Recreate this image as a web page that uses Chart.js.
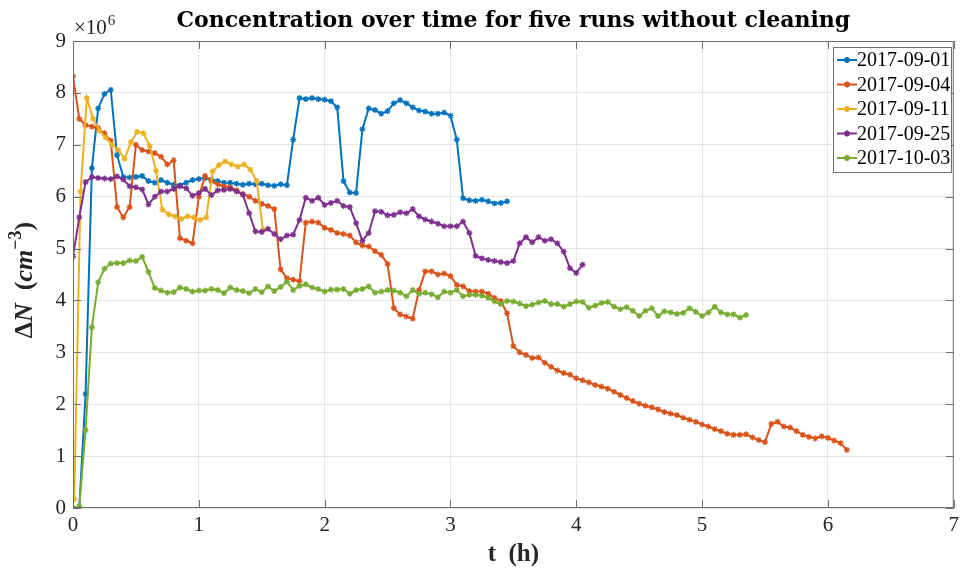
<!DOCTYPE html>
<html><head><meta charset="utf-8">
<script src="https://cdn.jsdelivr.net/npm/chart.js@4"></script>
<style>html,body{margin:0;padding:0;background:#fff;}</style>
</head><body>
<canvas id="c" width="964" height="568"></canvas>
<script>
// ---- data (ΔN in units of 1e6 cm^-3), sampled every 0.05 h ----
const sampleStep = 0.05;
const seriesLabels = ['2017-09-01','2017-09-04','2017-09-11','2017-09-25','2017-10-03'];
const seriesStart = [0.05, 0, 0.01, 0, 0];
const run0901 = [0, 2.2, 6.55, 7.7, 7.98, 8.06, 6.8, 6.38, 6.37, 6.38, 6.4, 6.3, 6.27, 6.32, 6.27, 6.23, 6.22, 6.27, 6.32, 6.34, 6.36, 6.33, 6.3, 6.27, 6.27, 6.25, 6.23, 6.25, 6.24, 6.25, 6.22, 6.21, 6.24, 6.22, 7.1, 7.9, 7.88, 7.9, 7.88, 7.87, 7.84, 7.72, 6.3, 6.08, 6.07, 7.3, 7.7, 7.67, 7.6, 7.65, 7.8, 7.86, 7.8, 7.72, 7.66, 7.64, 7.6, 7.6, 7.62, 7.56, 7.1, 5.97, 5.93, 5.92, 5.94, 5.91, 5.87, 5.88, 5.91];
const run0904 = [8.32, 7.5, 7.38, 7.35, 7.32, 7.22, 7.08, 5.8, 5.6, 5.8, 7.0, 6.9, 6.87, 6.84, 6.77, 6.62, 6.7, 5.2, 5.15, 5.1, 6.0, 6.4, 6.3, 6.24, 6.2, 6.18, 6.12, 6.05, 6.0, 5.92, 5.86, 5.82, 5.76, 4.6, 4.43, 4.4, 4.37, 5.5, 5.52, 5.5, 5.4, 5.36, 5.3, 5.28, 5.25, 5.12, 5.06, 5.04, 4.95, 4.88, 4.7, 3.85, 3.73, 3.69, 3.65, 4.2, 4.56, 4.56, 4.5, 4.52, 4.47, 4.3, 4.27, 4.18, 4.17, 4.17, 4.13, 4.05, 3.99, 3.75, 3.12, 3.0, 2.95, 2.89, 2.9, 2.8, 2.72, 2.65, 2.6, 2.57, 2.5, 2.46, 2.42, 2.37, 2.34, 2.3, 2.24, 2.18, 2.12, 2.06, 2.01, 1.97, 1.94, 1.9, 1.85, 1.82, 1.79, 1.74, 1.7, 1.66, 1.61, 1.57, 1.52, 1.48, 1.43, 1.41, 1.41, 1.42, 1.36, 1.31, 1.27, 1.62, 1.66, 1.57, 1.55, 1.48, 1.41, 1.37, 1.34, 1.38, 1.35, 1.3, 1.25, 1.12];
const run0911 = [0.17, 6.1, 7.9, 7.5, 7.27, 7.14, 7.0, 6.9, 6.73, 7.05, 7.25, 7.22, 6.98, 6.5, 5.75, 5.66, 5.62, 5.57, 5.62, 5.6, 5.55, 5.6, 6.49, 6.61, 6.68, 6.62, 6.58, 6.62, 6.52, 6.3, 5.36];
const run0925 = [4.85, 5.6, 6.28, 6.38, 6.36, 6.35, 6.34, 6.39, 6.33, 6.2, 6.18, 6.14, 5.85, 6.0, 6.1, 6.1, 6.15, 6.2, 6.16, 6.02, 6.07, 6.15, 6.03, 6.12, 6.13, 6.15, 6.1, 6.04, 5.68, 5.33, 5.32, 5.38, 5.28, 5.18, 5.25, 5.27, 5.55, 5.98, 5.92, 5.98, 5.84, 5.88, 5.92, 5.82, 5.8, 5.49, 5.15, 5.3, 5.72, 5.71, 5.64, 5.65, 5.7, 5.68, 5.76, 5.62, 5.56, 5.52, 5.48, 5.43, 5.43, 5.43, 5.52, 5.3, 4.86, 4.81, 4.78, 4.76, 4.74, 4.72, 4.76, 5.1, 5.22, 5.12, 5.22, 5.15, 5.18, 5.1, 4.94, 4.62, 4.53, 4.69];
const run1003 = [0, 0.03, 1.5, 3.48, 4.35, 4.61, 4.71, 4.72, 4.72, 4.77, 4.76, 4.84, 4.55, 4.24, 4.19, 4.15, 4.16, 4.25, 4.22, 4.17, 4.19, 4.19, 4.22, 4.2, 4.14, 4.25, 4.2, 4.18, 4.14, 4.22, 4.16, 4.27, 4.18, 4.26, 4.36, 4.2, 4.28, 4.31, 4.25, 4.22, 4.17, 4.21, 4.21, 4.22, 4.13, 4.2, 4.22, 4.27, 4.15, 4.17, 4.2, 4.19, 4.15, 4.08, 4.2, 4.13, 4.15, 4.12, 4.06, 4.17, 4.15, 4.2, 4.08, 4.11, 4.11, 4.09, 4.05, 3.98, 3.93, 3.99, 3.98, 3.94, 3.89, 3.92, 3.96, 3.99, 3.93, 3.93, 3.88, 3.93, 3.98, 3.97, 3.86, 3.9, 3.95, 3.97, 3.88, 3.83, 3.87, 3.8, 3.7, 3.8, 3.85, 3.7, 3.79, 3.77, 3.74, 3.76, 3.85, 3.78, 3.7, 3.77, 3.88, 3.77, 3.73, 3.73, 3.67, 3.72];
const xTicks = [0,1,2,3,4,5,6,7];
const yTicks = [0,1,2,3,4,5,6,7,8,9];

const seriesValues = [run0901, run0904, run0911, run0925, run1003];
const seriesColors = ['#0072BD','#D95319','#EDB120','#7E2F8E','#77AC30'];

const datasets = seriesValues.map((vals, i) => ({
  label: seriesLabels[i],
  data: vals.map((v, k) => ({x: seriesStart[i] + k * sampleStep, y: v})),
  borderColor: seriesColors[i],
  backgroundColor: seriesColors[i],
  borderWidth: 2,
  pointStyle: 'star',
  pointRadius: 3,
  pointBorderWidth: 1.3,
  pointBorderColor: seriesColors[i],
  tension: 0,
  order: 5 - i
}));

const SERIF = '"Liberation Serif", "DejaVu Serif", serif';
const AXC = '#262626';

const decor = {
  id: 'decor',
  afterDraw(chart) {
    const ctx = chart.ctx, a = chart.chartArea;
    const xs = chart.scales.x, ys = chart.scales.y;
    ctx.save();
    // box
    ctx.strokeStyle = '#6e6e6e';
    ctx.lineWidth = 1;
    ctx.strokeRect(a.left + 0.5, a.top + 0.5, a.right - a.left - 1, a.bottom - a.top - 1);
    // inward ticks
    ctx.beginPath();
    xTicks.forEach(t => {
      const p = Math.round(xs.getPixelForValue(t)) + 0.5;
      ctx.moveTo(p, a.bottom); ctx.lineTo(p, a.bottom - 8);
      ctx.moveTo(p, a.top); ctx.lineTo(p, a.top + 8);
    });
    yTicks.forEach(t => {
      const p = Math.round(ys.getPixelForValue(t)) + 0.5;
      ctx.moveTo(a.left, p); ctx.lineTo(a.left + 8, p);
      ctx.moveTo(a.right, p); ctx.lineTo(a.right - 8, p);
    });
    ctx.stroke();

    // title
    ctx.fillStyle = '#000';
    ctx.textAlign = 'center';
    ctx.textBaseline = 'alphabetic';
    ctx.font = 'bold 22px "DejaVu Serif", serif';
    ctx.fillText('Concentration over time for five runs without cleaning', (a.left + a.right) / 2, 27);

    // x10^6
    ctx.fillStyle = AXC;
    ctx.textAlign = 'left';
    ctx.font = '21px ' + SERIF;
    ctx.fillText('\u00d710', 74, 34);
    const w10 = ctx.measureText('\u00d710').width;
    ctx.font = '15px ' + SERIF;
    ctx.fillText('6', 74 + w10 + 1, 25);

    // x title
    ctx.fillStyle = '#262626';
    ctx.textAlign = 'center';
    ctx.font = 'bold 25px ' + SERIF;
    ctx.fillText('t  (h)', (a.left + a.right) / 2, 561);

    // y title (rotated)
    ctx.save();
    ctx.translate(32, 280);
    ctx.rotate(-Math.PI / 2);
    const segs = [
      ['\u0394', 'bold 26px ' + SERIF, 0],
      ['N', 'italic bold 26px ' + SERIF, 0],
      ['  (', 'bold 26px ' + SERIF, 0],
      ['cm', 'italic bold 26px ' + SERIF, 0],
      ['\u22123', 'bold 18px ' + SERIF, -11],
      [')', 'bold 26px ' + SERIF, 0]
    ];
    let total = 0;
    segs.forEach(s => { ctx.font = s[1]; total += ctx.measureText(s[0]).width; });
    let xx = -total / 2;
    ctx.textAlign = 'left';
    segs.forEach(s => { ctx.font = s[1]; ctx.fillText(s[0], xx, s[2]); xx += ctx.measureText(s[0]).width; });
    ctx.restore();

    // legend
    const lx = 833, ly = 47, lw = 118, lh = 125;
    ctx.fillStyle = '#fff';
    ctx.fillRect(lx, ly, lw, lh);
    ctx.strokeStyle = '#6e6e6e';
    ctx.lineWidth = 1;
    ctx.strokeRect(lx + 0.5, ly + 0.5, lw, lh);
    ctx.font = '20px ' + SERIF;
    ctx.textAlign = 'left';
    ctx.textBaseline = 'middle';
    chart.data.datasets.forEach((ds, i) => {
      const cy = 60 + i * 24.5;
      ctx.strokeStyle = ds.borderColor;
      ctx.lineWidth = 2;
      ctx.beginPath(); ctx.moveTo(837, cy); ctx.lineTo(857, cy); ctx.stroke();
      Chart.helpers.drawPoint(ctx, {pointStyle: 'star', radius: 3, borderWidth: 1.3}, 847, cy);
      ctx.fillStyle = '#000';
      ctx.fillText(ds.label, 857, cy + 1);
    });
    ctx.restore();
  }
};

new Chart(document.getElementById('c'), {
  type: 'line',
  data: { datasets },
  options: {
    responsive: false,
    animation: false,
    devicePixelRatio: 1,
    layout: { padding: { top: 41, right: 5, left: 0, bottom: 0 } },
    plugins: { legend: { display: false }, tooltip: { enabled: false } },
    scales: {
      x: {
        type: 'linear', min: 0, max: 7,
        afterFit: s => { s.height = 60; },
        afterBuildTicks: s => { s.ticks = xTicks.map(v => ({value: v})); },
        ticks: { font: { family: SERIF, size: 21 }, color: AXC, padding: 5, maxRotation: 0 },
        grid: { color: '#e6e6e6', drawTicks: false },
        border: { display: false }
      },
      y: {
        type: 'linear', min: 0, max: 9,
        afterFit: s => { s.width = 73; },
        afterBuildTicks: s => { s.ticks = yTicks.map(v => ({value: v})); },
        ticks: { font: { family: SERIF, size: 21 }, color: AXC, padding: 7 },
        grid: { color: '#e6e6e6', drawTicks: false },
        border: { display: false }
      }
    }
  },
  plugins: [decor]
});
</script>
</body></html>
